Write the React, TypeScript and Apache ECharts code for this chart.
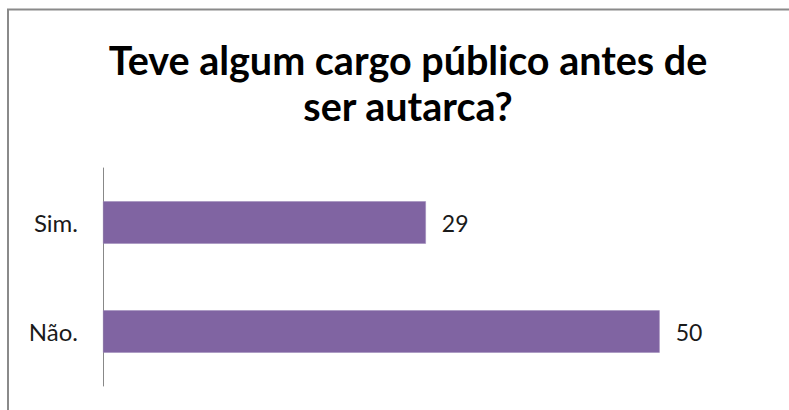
import React, { useEffect, useRef } from "react";
import * as echarts from "echarts";

const categories = ["Não.", "Sim."];
const values = [50, 29];
const titleText = "Teve algum cargo público antes de\nser autarca?";

export default function App() {
  const ref = useRef<HTMLDivElement>(null);
  useEffect(() => {
    if (!ref.current) return;
    const chart = echarts.init(ref.current, null, { renderer: "svg" });
    chart.setOption({
      animation: false,
      backgroundColor: "#ffffff",
      title: {
        text: titleText,
        left: 403,
        textAlign: "center",
        top: 31,
        textStyle: {
          fontFamily: "Lato",
          fontWeight: "bold",
          fontSize: 39.5,
          lineHeight: 46,
          color: "#000000",
        },
      },
      graphic: [
        {
          type: "rect",
          shape: { x: 8, y: 9.5, width: 800, height: 420 },
          style: { fill: "none", stroke: "#8a8a8a", lineWidth: 2 },
          silent: true,
        },
      ],
      grid: { left: 103, right: 18, top: 168, bottom: 24, containLabel: false },
      xAxis: {
        type: "value",
        min: 0,
        max: 60,
        show: false,
        splitLine: { show: false },
      },
      yAxis: {
        type: "category",
        data: categories,
        axisLine: { show: true, lineStyle: { color: "#888888", width: 1 } },
        axisTick: { show: false },
        axisLabel: {
          fontFamily: "Lato",
          fontSize: 24,
          color: "#1a1a1a",
          margin: 25,
        },
      },
      series: [
        {
          type: "bar",
          data: values,
          barWidth: "39%",
          itemStyle: { color: "#8064A2", borderColor: "#9b86b8", borderWidth: 0.5 },
          label: {
            show: true,
            position: "right",
            distance: 16,
            fontFamily: "Lato",
            fontSize: 23,
            color: "#1a1a1a",
          },
        },
      ],
    });
    return () => chart.dispose();
  }, []);
  return (
    <div
      ref={ref}
      style={{ position: "fixed", left: 0, top: 0, width: 789, height: 410 }}
    />
  );
}
